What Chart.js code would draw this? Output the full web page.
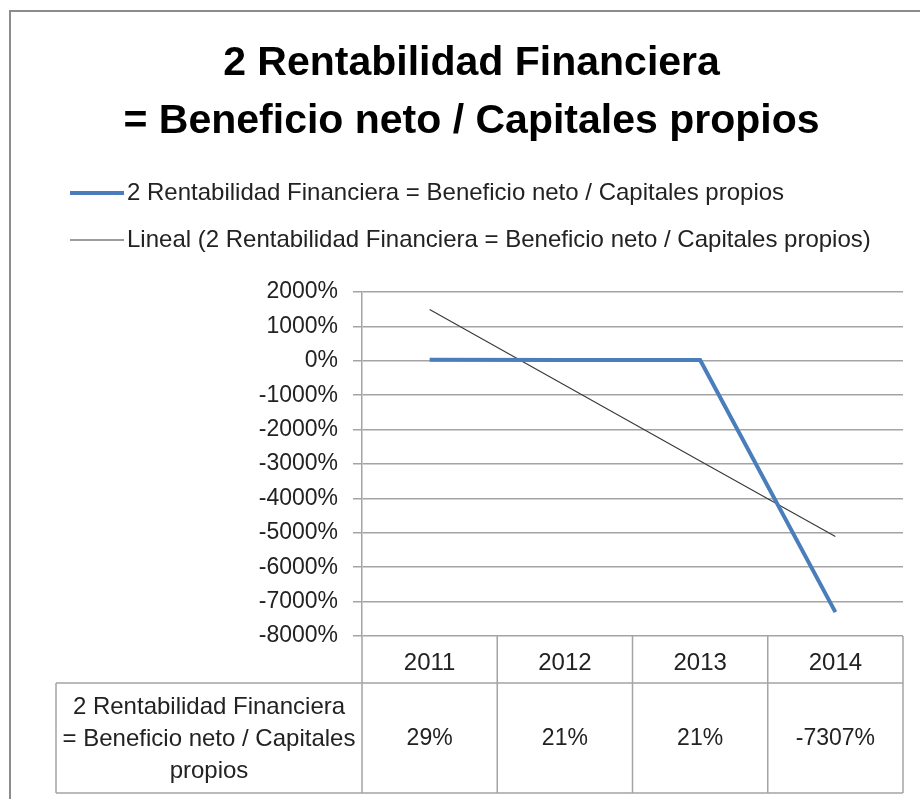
<!DOCTYPE html>
<html lang="es">
<head>
  <meta charset="UTF-8" />
  <title>Rentabilidad Financiera</title>
  <script src="https://cdn.jsdelivr.net/npm/chart.js"></script>
  <style>
    html, body { margin: 0; padding: 0; background: #ffffff; overflow: hidden; }
    #wrap { position: relative; width: 920px; height: 799px; }
  </style>
</head>
<body>

<div id="wrap">
  <canvas id="chart" width="920" height="799"></canvas>
</div>

<script>
  // Data
  const years = ["2011", "2012", "2013", "2014"];
  const rentabilidad = [29, 21, 21, -7307];          // %
  const tendencia = [1490, -710, -2910, -5110];      // linear trend, %
  const yMin = -8000, yMax = 2000, yStep = 1000;

  const titleLines = ["2 Rentabilidad Financiera", "= Beneficio neto / Capitales propios"];
  const serieLabel = "2 Rentabilidad Financiera = Beneficio neto / Capitales propios";
  const trendLabel = "Lineal (2 Rentabilidad Financiera = Beneficio neto / Capitales propios)";
  const rowLabel = ["2 Rentabilidad Financiera", "= Beneficio neto / Capitales", "propios"];

  const FONT = "'Liberation Sans', Arial, sans-serif";
  const gridColor = "#a4a4a4";
  const textColor = "#222222";

  // frame, legend and data table drawn around the plot
  const extras = {
    id: "extras",
    beforeDraw(chart) {
      const ctx = chart.ctx;
      ctx.save();
      ctx.fillStyle = "#fff";
      ctx.fillRect(0, 0, chart.width, chart.height);
      ctx.strokeStyle = "#8c8c8c";
      ctx.lineWidth = 2;
      ctx.beginPath();
      ctx.moveTo(10, chart.height);
      ctx.lineTo(10, 11);
      ctx.lineTo(chart.width, 11);
      ctx.stroke();
      ctx.restore();
    },
    afterDraw(chart) {
      const ctx = chart.ctx;
      const area = chart.chartArea;
      const xs = chart.scales.x;
      ctx.save();

      // legend
      const rows = [
        { label: serieLabel, color: "#4a7ebb", width: 4, y: 193 },
        { label: trendLabel, color: "#3c3c3c", width: 1.2, y: 240 }
      ];
      ctx.font = "24px " + FONT;
      ctx.textBaseline = "middle";
      ctx.textAlign = "left";
      rows.forEach(r => {
        ctx.strokeStyle = r.color;
        ctx.lineWidth = r.width;
        ctx.beginPath();
        ctx.moveTo(70, r.y);
        ctx.lineTo(124, r.y);
        ctx.stroke();
        ctx.fillStyle = textColor;
        ctx.fillText(r.label, 127, r.y);
      });

      // data table
      const half = (xs.getPixelForValue(1) - xs.getPixelForValue(0)) / 2;
      const bounds = years.map((_, i) => xs.getPixelForValue(i) - half);
      bounds.push(xs.getPixelForValue(years.length - 1) + half);
      const top = area.bottom;
      const headBottom = top + 47;
      const bottom = xs.bottom;
      const labelLeft = 56;

      ctx.strokeStyle = gridColor;
      ctx.lineWidth = 1.5;
      ctx.beginPath();
      bounds.forEach(b => { ctx.moveTo(b, top); ctx.lineTo(b, bottom); });
      ctx.moveTo(labelLeft, headBottom); ctx.lineTo(bounds[bounds.length - 1], headBottom);
      ctx.moveTo(labelLeft, bottom); ctx.lineTo(bounds[bounds.length - 1], bottom);
      ctx.moveTo(labelLeft, headBottom); ctx.lineTo(labelLeft, bottom);
      ctx.stroke();

      const mid = (headBottom + bottom) / 2 + 1;
      ctx.fillStyle = textColor;
      ctx.font = "24px " + FONT;
      ctx.textAlign = "center";
      rowLabel.forEach((t, i) => {
        ctx.fillText(t, (labelLeft + bounds[0]) / 2, mid + (i - 1) * 32);
      });
      ctx.font = "23px " + FONT;
      rentabilidad.forEach((v, i) => {
        ctx.fillText(v + "%", xs.getPixelForValue(i), mid);
      });
      ctx.restore();
    }
  };

  new Chart(document.getElementById("chart"), {
    type: "line",
    data: {
      labels: years,
      datasets: [
        {
          label: serieLabel,
          data: rentabilidad,
          borderColor: "#4a7ebb",
          backgroundColor: "#4a7ebb",
          borderWidth: 4,
          pointRadius: 0,
          tension: 0
        },
        {
          label: trendLabel,
          data: tendencia,
          borderColor: "#3c3c3c",
          backgroundColor: "#3c3c3c",
          borderWidth: 1.2,
          pointRadius: 0,
          tension: 0
        }
      ]
    },
    options: {
      responsive: false,
      animation: false,
      layout: { padding: { top: 0, left: 40, right: 17, bottom: 6 } },
      plugins: {
        legend: { display: false },
        tooltip: { enabled: false },
        title: {
          display: true,
          text: titleLines,
          color: "#000",
          font: { family: FONT, size: 41, weight: "bold", lineHeight: 1.415 },
          padding: { top: 35, bottom: 141 }
        }
      },
      scales: {
        x: {
          offset: true,
          grid: { display: false },
          border: { display: false },
          ticks: { color: textColor, font: { family: FONT, size: 24 }, padding: 5 },
          afterFit: s => { s.height = 157; }
        },
        y: {
          min: yMin,
          max: yMax,
          ticks: {
            stepSize: yStep,
            color: textColor,
            font: { family: FONT, size: 23 },
            padding: 15,
            callback: v => v + "%"
          },
          grid: { color: gridColor, lineWidth: 1.5, tickLength: 9 },
          border: { color: gridColor, width: 1.5 },
          afterFit: s => { s.width = 322; }
        }
      }
    },
    plugins: [extras]
  });
</script>

</body>
</html>
